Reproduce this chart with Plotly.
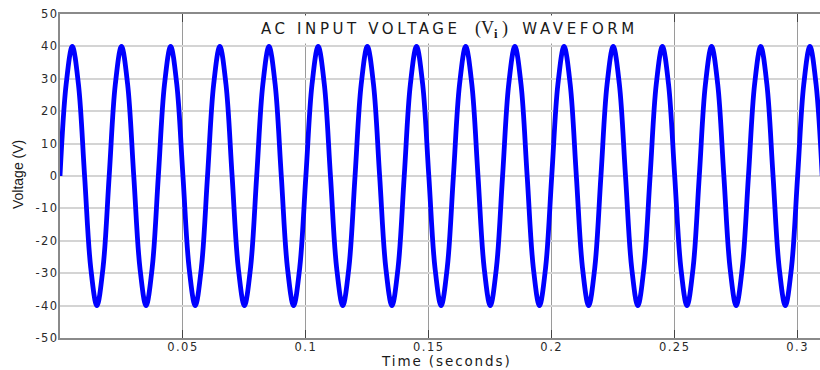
import plotly.graph_objects as go

# ---- data (eighth-period samples of the waveform) ----
time_s = [0.0000, 0.0025, 0.0050, 0.0075, 0.0100, 0.0125, 0.0150, 0.0175,
          0.0200, 0.0225, 0.0250, 0.0275, 0.0300, 0.0325, 0.0350, 0.0375,
          0.0400, 0.0425, 0.0450, 0.0475, 0.0500, 0.0525, 0.0550, 0.0575,
          0.0600, 0.0625, 0.0650, 0.0675, 0.0700, 0.0725, 0.0750, 0.0775,
          0.0800, 0.0825, 0.0850, 0.0875, 0.0900, 0.0925, 0.0950, 0.0975,
          0.1000, 0.1025, 0.1050, 0.1075, 0.1100, 0.1125, 0.1150, 0.1175,
          0.1200, 0.1225, 0.1250, 0.1275, 0.1300, 0.1325, 0.1350, 0.1375,
          0.1400, 0.1425, 0.1450, 0.1475, 0.1500, 0.1525, 0.1550, 0.1575,
          0.1600, 0.1625, 0.1650, 0.1675, 0.1700, 0.1725, 0.1750, 0.1775,
          0.1800, 0.1825, 0.1850, 0.1875, 0.1900, 0.1925, 0.1950, 0.1975,
          0.2000, 0.2025, 0.2050, 0.2075, 0.2100, 0.2125, 0.2150, 0.2175,
          0.2200, 0.2225, 0.2250, 0.2275, 0.2300, 0.2325, 0.2350, 0.2375,
          0.2400, 0.2425, 0.2450, 0.2475, 0.2500, 0.2525, 0.2550, 0.2575,
          0.2600, 0.2625, 0.2650, 0.2675, 0.2700, 0.2725, 0.2750, 0.2775,
          0.2800, 0.2825, 0.2850, 0.2875, 0.2900, 0.2925, 0.2950, 0.2975,
          0.3000, 0.3025, 0.3050, 0.3075, 0.3100]
voltage_v = [0, 28.3, 40, 28.3, 0, -28.3, -40, -28.3,
             0, 28.3, 40, 28.3, 0, -28.3, -40, -28.3,
             0, 28.3, 40, 28.3, 0, -28.3, -40, -28.3,
             0, 28.3, 40, 28.3, 0, -28.3, -40, -28.3,
             0, 28.3, 40, 28.3, 0, -28.3, -40, -28.3,
             0, 28.3, 40, 28.3, 0, -28.3, -40, -28.3,
             0, 28.3, 40, 28.3, 0, -28.3, -40, -28.3,
             0, 28.3, 40, 28.3, 0, -28.3, -40, -28.3,
             0, 28.3, 40, 28.3, 0, -28.3, -40, -28.3,
             0, 28.3, 40, 28.3, 0, -28.3, -40, -28.3,
             0, 28.3, 40, 28.3, 0, -28.3, -40, -28.3,
             0, 28.3, 40, 28.3, 0, -28.3, -40, -28.3,
             0, 28.3, 40, 28.3, 0, -28.3, -40, -28.3,
             0, 28.3, 40, 28.3, 0, -28.3, -40, -28.3,
             0, 28.3, 40, 28.3, 0, -28.3, -40, -28.3,
             0, 28.3, 40, 28.3, 0]

x_tickvals = [0.05, 0.1, 0.15, 0.2, 0.25, 0.3]
x_ticklabels = ["0.05", "0.1", "0.15", "0.2", "0.25", "0.3"]
y_tickvals = [-50, -40, -30, -20, -10, 0, 10, 20, 30, 40, 50]
y_ticklabels = ["-50", "-40", "-30", "-20", "-10", "0", "10", "20", "30", "40", "50"]

title_main = "AC INPUT VOLTAGE"
title_sym = "V"
title_sub = "i"
title_end = "WAVEFORM"
x_title = "Time (seconds)"
y_title = "Voltage (V)"


def wide(s, sp):
    return f'<span style="letter-spacing:{sp}px">{s}</span>'


fig = go.Figure()
fig.add_trace(go.Scatter(
    x=time_s, y=voltage_v, mode="lines",
    line=dict(color="#0000ff", width=4.8, shape="spline", smoothing=1.0),
    hoverinfo="skip", showlegend=False,
))

tick_font = dict(family="DejaVu Sans", size=11.5, color="#2a2a2a")

fig.update_layout(
    width=820, height=370,
    margin=dict(l=60, r=0, t=14, b=32),
    paper_bgcolor="white", plot_bgcolor="white",
    font=dict(family="DejaVu Sans", color="#222222"),
    xaxis=dict(
        range=[0, 0.3091], tickmode="array", tickvals=x_tickvals,
        ticktext=[wide(t, 1.5) for t in x_ticklabels],
        tickfont=tick_font, ticklabelstandoff=-3,
        showgrid=True, gridcolor="#9a9a9a", gridwidth=1,
        ticks="inside", ticklen=8, tickcolor="#444444", tickwidth=1,
        showline=True, linecolor="#8a8a8a", linewidth=2, mirror="ticks",
        zeroline=False, automargin=False,
    ),
    yaxis=dict(
        range=[-50, 50], tickmode="array", tickvals=y_tickvals,
        ticktext=[wide(t, 1.5) for t in y_ticklabels],
        tickfont=tick_font, ticklabelstandoff=-3,
        showgrid=True, gridcolor="#d4d4d4", gridwidth=1.5,
        ticks="", showline=True, linecolor="#8a8a8a", linewidth=2,
        zeroline=False, automargin=False,
    ),
)

title_text = (wide(title_main, 3.6) + "&nbsp;&nbsp;&nbsp;"
              + '<span style="font-family:Liberation Serif;font-size:18px">('
              + title_sym + "<sub><b>" + title_sub + "</b></sub>&nbsp;)</span>"
              + "&nbsp;&nbsp;&nbsp;" + wide(title_end, 3.6))

fig.add_annotation(
    xref="paper", yref="paper", x=0.512, y=0.951,
    xanchor="center", yanchor="middle",
    text=title_text, showarrow=False,
    font=dict(family="DejaVu Sans", size=15, color="#1a1a1a"),
    bgcolor="white", borderpad=2,
)
fig.add_annotation(
    xref="paper", yref="paper", x=0.508, y=0, yshift=-23,
    xanchor="center", yanchor="middle",
    text=wide(x_title, 1.9), showarrow=False,
    font=dict(family="DejaVu Sans", size=13.5, color="#1a1a1a"),
)
fig.add_annotation(
    xref="paper", yref="paper", x=0, xshift=-42, y=0.503,
    xanchor="center", yanchor="middle", textangle=-90,
    text=y_title, showarrow=False,
    font=dict(family="Liberation Sans", size=14, color="#1a1a1a"),
)

fig.write_html("out.html")
